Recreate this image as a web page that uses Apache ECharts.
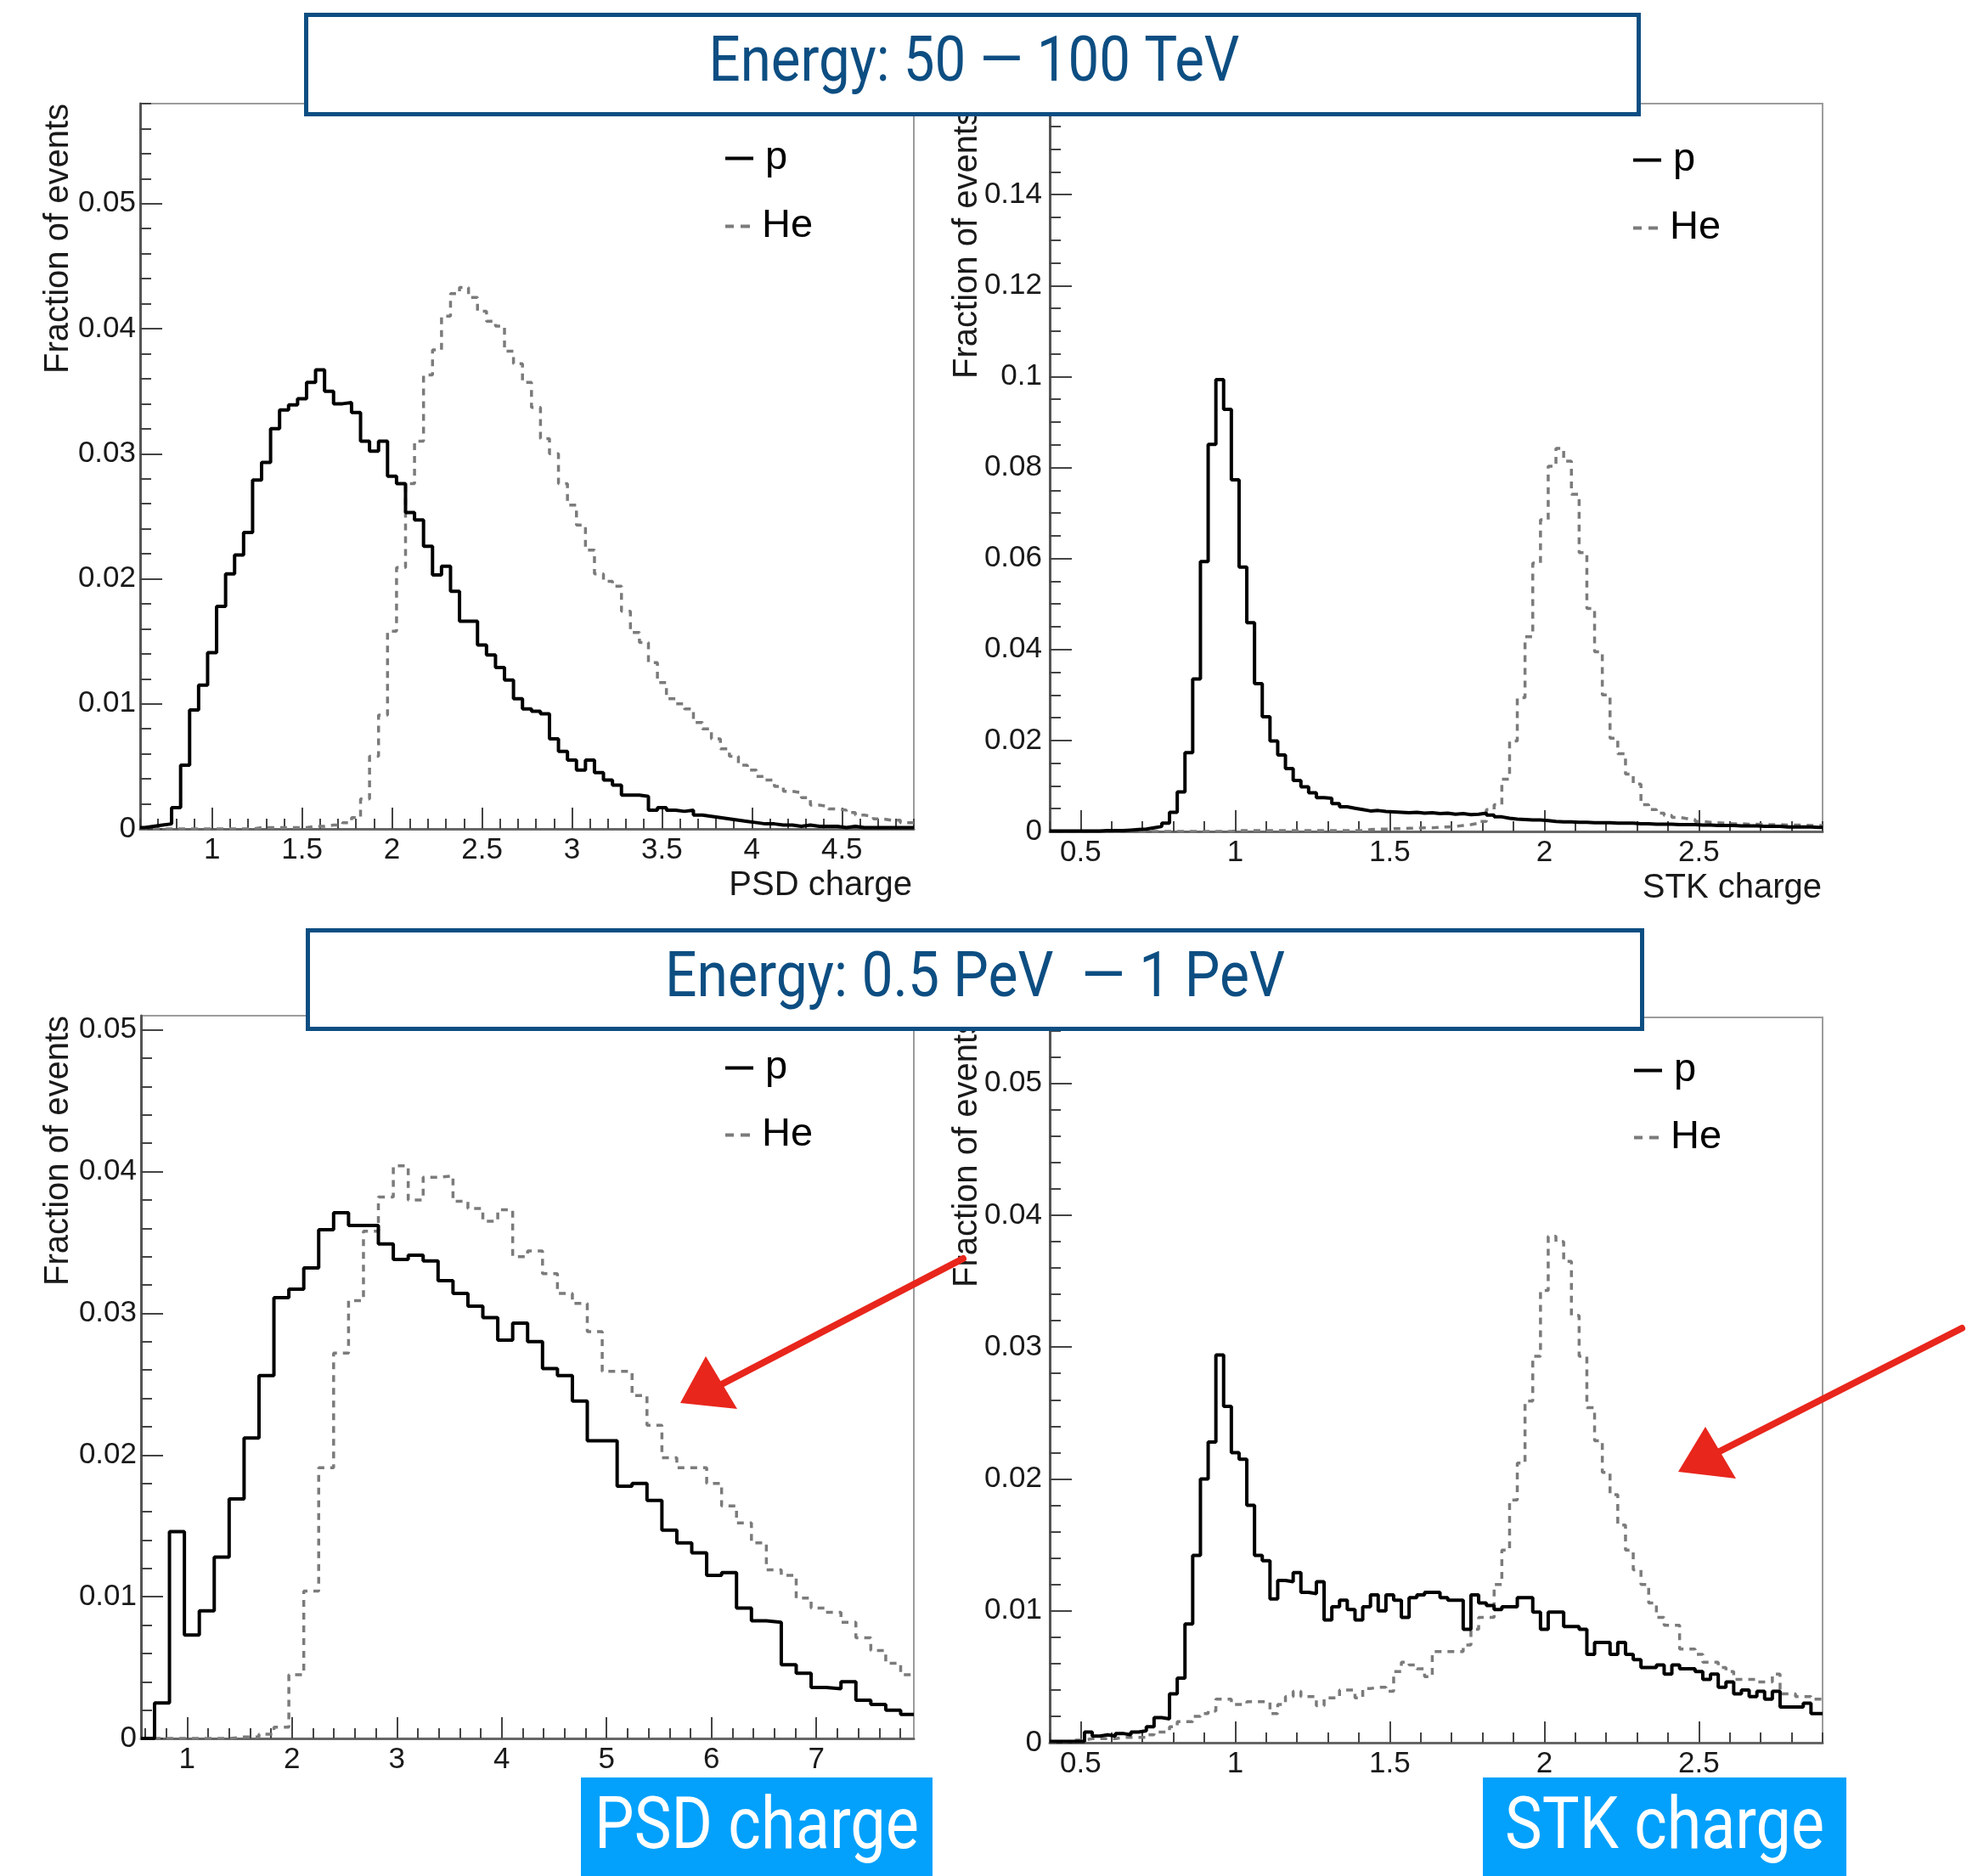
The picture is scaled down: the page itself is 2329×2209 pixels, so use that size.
<!DOCTYPE html>
<html><head><meta charset="utf-8">
<script src="https://cdn.jsdelivr.net/npm/echarts@6/dist/echarts.min.js"></script>
<style>html,body{margin:0;padding:0;background:#fff}#c{width:2329px;height:2209px}</style>
</head><body><div id="c"></div>
<script>
// ---------------- DATA ----------------
const SERIES_NAMES = ['p', 'He'];
const Y_TITLE = 'Fraction of events';
const X_TITLE_TL = 'PSD charge';
const X_TITLE_TR = 'STK charge';
const TITLE_TOP = 'Energy: 50 \u2014 100 TeV';
const TITLE_BOTTOM = 'Energy: 0.5 PeV  \u2014 1 PeV';
const LABEL_PSD = 'PSD charge';
const LABEL_STK = 'STK charge';

// bin definitions: [first bin centre, bin width]
const TL_BINS = [0.6, 0.05];
const TR_BINS = [0.4, 0.025];
const BL_BINS = [0.6182, 0.1423];
const BR_BINS = [0.4, 0.025];

// Top-left: PSD charge, 50-100 TeV
const TL_P = [0.0001,0.0002,0.0003,0.0004,0.0017,0.0051,0.0095,0.0115,0.0141,0.0178,
 0.0204,0.0219,0.0237,0.0279,0.0293,0.0320,0.0335,0.0339,0.0344,0.0357,
 0.0367,0.0350,0.0340,0.0341,0.0333,0.0310,0.0302,0.0310,0.0282,0.0276,
 0.0253,0.0247,0.0226,0.0203,0.0210,0.0190,0.0166,0.0166,0.0147,0.0139,
 0.0129,0.0119,0.0104,0.0096,0.0094,0.0092,0.0072,0.0062,0.0055,0.0047,
 0.0055,0.0045,0.0039,0.0035,0.0027,0.0027,0.0026,0.0015,0.0017,0.0015,
 0.0014,0.0015,0.0011,0.0010,0.0009,0.0008,0.0007,0.0006,0.0005,0.0004,
 0.0004,0.0003,0.0003,0.0002,0.0003,0.0002,0.0002,0.0002,0.0001,0.0002,
 0.0001,0.0001,0.0001,0.0001,0.0001,0.0001,0.0001];
const TL_HE = [0,0,0,0,0,0,0,0,0,0,
 0,0,0,0.0001,0.0001,0.0001,0.0001,0.0001,0.0001,0.0002,
 0.0002,0.0003,0.0003,0.0005,0.0009,0.0024,0.0058,0.0091,0.0158,0.0209,
 0.0276,0.0310,0.0363,0.0383,0.0410,0.0428,0.0433,0.0425,0.0414,0.0406,
 0.0402,0.0382,0.0372,0.0357,0.0337,0.0312,0.0300,0.0276,0.0259,0.0243,
 0.0223,0.0204,0.0198,0.0194,0.0174,0.0157,0.0149,0.0133,0.0117,0.0104,
 0.0100,0.0096,0.0085,0.0080,0.0072,0.0064,0.0058,0.0051,0.0047,0.0042,
 0.0039,0.0034,0.0030,0.0029,0.0025,0.0019,0.0018,0.0016,0.0015,0.0013,
 0.0011,0.0010,0.0008,0.0007,0.0007,0.0005,0.0005];

// Top-right: STK charge, 50-100 TeV
const TR_P = [0.0001,0.0001,0.0001,0.0001,0.0001,0.0001,0.0001,0.0002,0.0002,0.0002,0.0003,0.0004,
 0.0005,0.0008,0.0011,0.0018,0.0042,0.0087,0.0173,0.0335,0.0593,0.0851,0.0993,0.0928,0.0773,0.0581,
 0.0459,0.0325,0.0252,0.0199,0.0168,0.0138,0.0112,0.0098,0.0085,0.0074,0.0073,0.0061,0.0054,0.0051,
 0.0048,0.0045,0.0046,
 0.0044,0.0043,0.0042,0.0041,0.0042,0.0040,0.0041,0.0039,0.0040,0.0038,0.0039,0.0037,0.0038,0.0040,
 0.0036,0.0032,0.0029,0.0027,0.0026,0.0025,0.0025,0.0024,0.0022,0.0021,0.0021,0.0020,0.0020,0.0019,
 0.0019,0.0019,0.0018,0.0018,0.0018,0.0017,0.0017,0.0016,0.0016,0.0016,0.0015,0.0015,0.0015,0.0014,
 0.0014,0.0013,0.0013,0.0013,0.0012,0.0012,0.0012,0.0011,0.0011,0.0011,0.0010,0.0010,0.0010,0.0010,
 0.0009,0.0009];
const TR_HE = [0,0,0,0,0,0,0,0,0,0,0,0,0,0,0,0,0,0,0,0,0,0,0,0,
 0.0002,0.0002,0.0002,0.0002,0.0002,0.0002,0.0002,0.0002,0.0002,0.0002,0.0002,0.0002,0.0002,0.0002,0.0002,0.0002,0.0002,
 0.0004,0.0005,0.0005,0.0006,0.0006,0.0007,0.0007,0.0008,0.0008,0.0009,
 0.0010,0.0011,0.0013,0.0015,0.0018,
 0.0022,0.0048,0.0059,0.0115,0.0199,0.0294,0.0428,0.0590,0.0685,0.0803,0.0842,0.0814,0.0741,0.0613,
 0.0490,0.0395,0.0300,0.0205,0.0171,0.0126,0.0104,0.0059,0.0048,0.0040,0.0035,0.0031,0.0028,0.0026,
 0.0022,0.0020,0.0019,0.0018,
 0.0017,0.0017,0.0016,0.0016,0.0015,0.0015,0.0015,0.0014,0.0014,0.0014,0.0013,0.0013,0.0013];

// Bottom-left: PSD charge, 0.5-1 PeV
const BL_P = [0.0000,0.0025,0.0146,0.0073,0.0090,0.0128,0.0169,0.0212,0.0256,0.0311,
 0.0317,0.0332,0.0359,0.0371,0.0362,0.0362,0.0349,0.0338,0.0341,0.0337,
 0.0323,0.0314,0.0305,0.0297,0.0281,0.0293,0.0280,0.0261,0.0256,0.0238,
 0.0210,0.0210,0.0178,0.0180,0.0168,0.0147,0.0138,0.0131,0.0115,0.0117,
 0.0092,0.0083,0.0082,0.0052,0.0046,0.0036,0.0035,0.0040,0.0027,0.0024,
 0.0020,0.0017];
const BL_HE = [0,0,0,0,0,0,0.0001,0.0001,0.0003,0.0008,
 0.0045,0.0104,0.0191,0.0272,0.0309,0.0358,0.0382,0.0404,0.0380,0.0396,
 0.0397,0.0379,0.0374,0.0365,0.0373,0.0340,0.0344,0.0328,0.0314,0.0307,
 0.0287,0.0259,0.0259,0.0242,0.0221,0.0198,0.0191,0.0191,0.0180,0.0164,
 0.0152,0.0138,0.0119,0.0115,0.0099,0.0092,0.0089,0.0082,0.0071,0.0062,
 0.0053,0.0045];

// Bottom-right: STK charge, 0.5-1 PeV
const BR_P = [0.0001,0.0001,0.0001,0.0001,0.0001,0.0008,0.0005,0.0006,0.0005,0.0007,
 0.0006,0.0008,0.0009,0.0012,0.0019,0.0018,0.0037,0.0049,0.0090,0.0142,
 0.0200,0.0228,0.0294,0.0255,0.0220,0.0215,0.0180,0.0142,0.0138,0.0109,
 0.0123,0.0122,0.0129,0.0114,0.0113,0.0122,0.0093,0.0103,0.0108,0.0101,
 0.0093,0.0103,0.0112,0.0100,0.0112,0.0108,0.0095,0.0110,0.0112,0.0114,
 0.0114,0.0110,0.0108,0.0108,0.0086,0.0112,0.0106,0.0104,0.0101,0.0103,
 0.0103,0.0110,0.0110,0.0099,0.0086,0.0099,0.0099,0.0088,0.0088,0.0086,
 0.0067,0.0076,0.0076,0.0067,0.0076,0.0067,0.0063,0.0057,0.0057,0.0059,
 0.0052,0.0059,0.0056,0.0056,0.0054,0.0048,0.0052,0.0042,0.0046,0.0037,
 0.0040,0.0035,0.0039,0.0033,0.0039,0.0027,0.0027,0.0027,0.0030,0.0022,
 0.0022];
const BR_HE = [0.0000,0.0000,0.0001,0.0002,0.0002,0.0003,0.0003,0.0003,0.0003,0.0004,
 0.0004,0.0004,0.0004,0.0006,0.0008,0.0008,0.0012,0.0016,0.0016,0.0020,
 0.0022,0.0024,0.0033,0.0033,0.0029,0.0029,0.0031,0.0031,0.0031,0.0022,
 0.0029,0.0035,0.0039,0.0035,0.0035,0.0028,0.0034,0.0034,0.0040,0.0040,
 0.0034,0.0041,0.0042,0.0042,0.0039,0.0054,0.0061,0.0059,0.0056,0.0050,
 0.0069,0.0069,0.0069,0.0069,0.0074,0.0086,0.0095,0.0095,0.0120,0.0146,
 0.0184,0.0212,0.0259,0.0293,0.0343,0.0384,0.0380,0.0365,0.0324,0.0293,
 0.0254,0.0229,0.0205,0.0188,0.0165,0.0146,0.0131,0.0120,0.0106,0.0095,
 0.0089,0.0089,0.0071,0.0071,0.0067,0.0061,0.0061,0.0057,0.0054,0.0048,
 0.0048,0.0048,0.0046,0.0046,0.0052,0.0037,0.0037,0.0035,0.0035,0.0033,
 0.0033];

// tick labels
const TL_XTICKS = [1, 1.5, 2, 2.5, 3, 3.5, 4, 4.5];
const TR_XTICKS = [0.5, 1, 1.5, 2, 2.5];
const BL_XTICKS = [1, 2, 3, 4, 5, 6, 7];
const BR_XTICKS = [0.5, 1, 1.5, 2, 2.5];
const TL_YTICKS = [0, 0.01, 0.02, 0.03, 0.04, 0.05];
const TR_YTICKS = [0, 0.02, 0.04, 0.06, 0.08, 0.1, 0.12, 0.14];
const BL_YTICKS = [0, 0.01, 0.02, 0.03, 0.04, 0.05];
const BR_YTICKS = [0, 0.01, 0.02, 0.03, 0.04, 0.05];

// ---------------- LAYOUT / STYLE ----------------
const AXIS_FONT = 'Liberation Sans';
const P_COLOR = '#000000';
const HE_COLOR = '#7b7b7b';
const BLUE = '#0d4e82';
const CYAN = '#03a1fc';
const RED = '#e8261c';
const TICK_FONT_SIZE = 35;

const panels = [
  {grid:{left:165, top:122, width:911, height:854}, x:[0.6,4.9], y:[0,0.058], xt:TL_XTICKS, xm:0.1,
   yt:TL_YTICKS, yi:0.01, ym:0.002, p:TL_P, he:TL_HE, bins:TL_BINS, ylm:5, leg:[854,186,266]},
  {grid:{left:1236, top:122, width:910, height:857}, x:[0.4,2.9], y:[0,0.16], xt:TR_XTICKS, xm:0.1,
   yt:TR_YTICKS, yi:0.02, ym:0.005, p:TR_P, he:TR_HE, bins:TR_BINS, ylm:9, leg:[1923,188,268]},
  {grid:{left:166, top:1196, width:910, height:851}, x:[0.56,7.93], y:[0,0.051], xt:BL_XTICKS, xm:0.2,
   yt:BL_YTICKS, yi:0.01, ym:0.002, p:BL_P, he:BL_HE, bins:BL_BINS, ylm:5, leg:[854,1257,1336]},
  {grid:{left:1236, top:1198, width:910, height:854}, x:[0.4,2.9], y:[0,0.055], xt:BR_XTICKS, xm:0.1,
   yt:BR_YTICKS, yi:0.01, ym:0.002, p:BR_P, he:BR_HE, bins:BR_BINS, ylm:9, leg:[1924,1260,1339]}
];

function histPoints(bins, values, lo, hi) {
  const c0 = bins[0], w = bins[1], pts = [];
  for (let i = 0; i < values.length; i++) {
    pts.push([Math.max(lo, c0 + (i - 0.5) * w), values[i]]);
  }
  pts.push([Math.min(hi, c0 + (values.length - 0.5) * w), values[values.length - 1]]);
  return pts;
}
function minorValues(min, max, step) {
  const out = [];
  for (let k = Math.ceil(min / step - 1e-9); k * step <= max + 1e-9; k++) out.push(Math.round(k * step * 1e6) / 1e6);
  return out;
}
function fitScale(text, font, target) {
  const ctx = document.createElement('canvas').getContext('2d');
  ctx.font = font;
  return target / ctx.measureText(text).width;
}

const grids = [], xAxes = [], yAxes = [], series = [], legends = [];
const tickLine = {color:'#444', width:2};
panels.forEach((pn, g) => {
  grids.push(Object.assign({show:true, borderColor:'#9c9c9c', borderWidth:2, backgroundColor:'transparent', outerBoundsMode:'none', containLabel:false}, pn.grid));
  xAxes.push({type:'value', gridIndex:g, min:pn.x[0], max:pn.x[1], position:'bottom',
    axisLine:{show:true, onZero:false, lineStyle:{color:'#666', width:3}},
    axisTick:{show:true, inside:true, length:25, customValues:pn.xt, lineStyle:tickLine},
    axisLabel:{show:true, customValues:pn.xt, margin:8, fontSize:TICK_FONT_SIZE, fontFamily:AXIS_FONT, color:'#1a1a1a'},
    splitLine:{show:false}});
  xAxes.push({type:'value', gridIndex:g, min:pn.x[0], max:pn.x[1], position:'bottom',
    axisLine:{show:false}, axisLabel:{show:false}, splitLine:{show:false},
    axisTick:{show:true, inside:true, length:12, customValues:minorValues(pn.x[0], pn.x[1], pn.xm), lineStyle:tickLine}});
  yAxes.push({type:'value', gridIndex:g, min:pn.y[0], max:pn.y[1], interval:pn.yi, position:'left',
    axisLine:{show:true, onZero:false, lineStyle:{color:'#555', width:3}},
    axisTick:{show:true, inside:true, length:26, customValues:pn.yt, lineStyle:tickLine},
    axisLabel:{show:true, customValues:pn.yt, margin:pn.ylm, fontSize:TICK_FONT_SIZE, fontFamily:AXIS_FONT, color:'#1a1a1a'},
    splitLine:{show:false}});
  yAxes.push({type:'value', gridIndex:g, min:pn.y[0], max:pn.y[1], interval:pn.ym, position:'left',
    axisLine:{show:false}, axisLabel:{show:false}, splitLine:{show:false},
    axisTick:{show:true, inside:true, length:13, customValues:minorValues(pn.y[0], pn.y[1], pn.ym), lineStyle:tickLine}});
  series.push({type:'line', name:SERIES_NAMES[1], xAxisIndex:2*g, yAxisIndex:2*g, step:'end', symbol:'none',
    data:histPoints(pn.bins, pn.he, pn.x[0], pn.x[1]), z:2,
    itemStyle:{color:HE_COLOR, borderWidth:0}, lineStyle:{color:HE_COLOR, width:3.5, type:[8,7]}});
  series.push({type:'line', name:SERIES_NAMES[0], xAxisIndex:2*g, yAxisIndex:2*g, step:'end', symbol:'none',
    data:histPoints(pn.bins, pn.p, pn.x[0], pn.x[1]), z:3,
    itemStyle:{color:P_COLOR, borderWidth:0}, lineStyle:{color:P_COLOR, width:4}});
  const legTxt = {fontSize:47, fontFamily:AXIS_FONT, color:'#000', padding:[0,0,0,9]};
  legends.push({left:pn.leg[0], top:pn.leg[1]-23, padding:0, orient:'vertical', selectedMode:false,
    itemWidth:33, itemHeight:4, itemStyle:{borderWidth:0}, textStyle:legTxt,
    data:[{name:SERIES_NAMES[0], icon:'path://M0,0H33V4H0Z'}]});
  legends.push({left:pn.leg[0], top:pn.leg[2]-23, padding:0, orient:'vertical', selectedMode:false,
    itemWidth:29, itemHeight:4, itemStyle:{borderWidth:0}, textStyle:legTxt,
    data:[{name:SERIES_NAMES[1], icon:'path://M0,0H10V4H0Z M18,0H29V4H18Z'}]});
});

const yTitleFont = '40px "' + AXIS_FONT + '"';
const titleFont = '75px Roboto';
const labelFont = '85px Roboto';
function yTitle(x, y) {
  return {type:'text', x:x, y:y, rotation:Math.PI/2, z:10,
    style:{text:Y_TITLE, font:yTitleFont, fill:'#1a1a1a', textAlign:'right', verticalAlign:'middle', textVerticalAlign:'middle'}};
}
function fitText(text, font, cx, cy, w, color) {
  return {type:'text', x:cx, y:cy, scaleX:fitScale(text, font, w), z:102,
    style:{text:text, font:font, fill:color, textAlign:'center', verticalAlign:'middle', textVerticalAlign:'middle'}};
}

const graphics = [
  yTitle(69, 122), yTitle(1139, 128), yTitle(69, 1196), yTitle(1139, 1198),
  {type:'text', x:1074, y:1043, z:10, style:{text:X_TITLE_TL, font:yTitleFont, fill:'#1a1a1a', textAlign:'right', verticalAlign:'middle', textVerticalAlign:'middle'}},
  {type:'text', x:2145, y:1046, z:10, style:{text:X_TITLE_TR, font:yTitleFont, fill:'#1a1a1a', textAlign:'right', verticalAlign:'middle', textVerticalAlign:'middle'}},
  // red arrows
  {type:'polyline', z:90, shape:{points:[[1134,1482],[842,1634]]}, style:{stroke:RED, lineWidth:8, lineCap:'round', fill:null}},
  {type:'polygon', z:90, shape:{points:[[801,1652],[831,1597],[868,1659]]}, style:{fill:RED}},
  {type:'polyline', z:90, shape:{points:[[2310,1564],[2015,1714]]}, style:{stroke:RED, lineWidth:8, lineCap:'round', fill:null}},
  {type:'polygon', z:90, shape:{points:[[1976,1733],[2008,1680],[2044,1741]]}, style:{fill:RED}},
  // energy title boxes
  {type:'rect', z:100, shape:{x:360.5, y:17.5, width:1569, height:117}, style:{fill:'#fff', stroke:BLUE, lineWidth:5}},
  fitText(TITLE_TOP, titleFont, 1147, 76, 625, BLUE),
  {type:'rect', z:100, shape:{x:362.5, y:1095.5, width:1571, height:116}, style:{fill:'#fff', stroke:BLUE, lineWidth:5}},
  fitText(TITLE_BOTTOM, titleFont, 1148, 1154, 730, BLUE),
  // cyan axis labels
  {type:'rect', z:100, shape:{x:684, y:2093, width:414, height:116}, style:{fill:CYAN}},
  fitText(LABEL_PSD, labelFont, 891, 2155, 382, '#fff'),
  {type:'rect', z:100, shape:{x:1746, y:2093, width:428, height:116}, style:{fill:CYAN}},
  fitText(LABEL_STK, labelFont, 1960, 2155, 376, '#fff')
];

const chart = echarts.init(document.getElementById('c'), null, {renderer:'canvas', width:2329, height:2209});
chart.setOption({
  animation:false,
  backgroundColor:'#fff',
  textStyle:{fontFamily:AXIS_FONT},
  grid:grids, xAxis:xAxes, yAxis:yAxes, series:series, legend:legends,
  graphic:{elements:graphics}
});
</script></body></html>
